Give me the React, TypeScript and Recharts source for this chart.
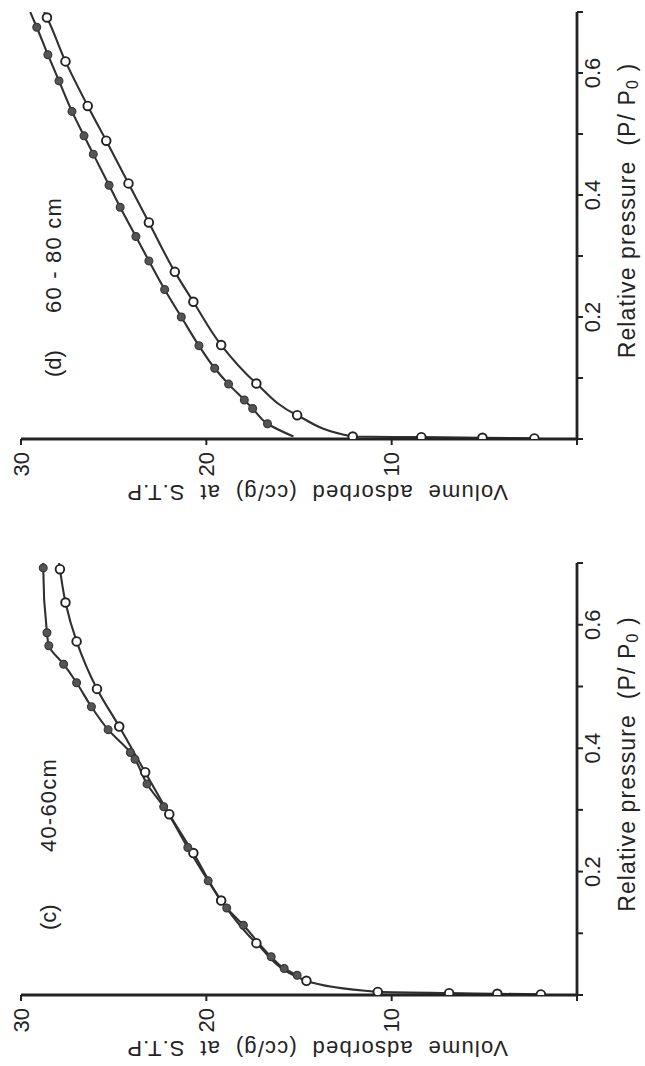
import React from "react";
import { ComposedChart, Line, XAxis, YAxis, Label } from "recharts";

// axes
const pressureTicks = [0, 0.1, 0.2, 0.3, 0.4, 0.5, 0.6, 0.7];
const pressureLabels = ["", "", "0.2", "", "0.4", "", "0.6", ""];
const volumeTicks = [0, 10, 20, 30];
const volumeLabels = ["", "10", "20", "30"];

// (c) 40-60 cm  -- open circles
const cOpenP = [0.001, 0.002, 0.003, 0.005, 0.023, 0.084, 0.153, 0.23, 0.293, 0.361, 0.435, 0.496, 0.573, 0.636, 0.69];
const cOpenV = [1.95, 4.3, 6.9, 10.75, 14.6, 17.3, 19.2, 20.7, 22.0, 23.3, 24.7, 25.9, 27.0, 27.6, 27.9];
const cOpenTailP = [0.7];
const cOpenTailV = [27.95];
// (c) filled circles
const cFilledP = [0.032, 0.043, 0.062, 0.113, 0.141, 0.185, 0.239, 0.305, 0.342, 0.382, 0.393, 0.43, 0.467, 0.506, 0.536, 0.566, 0.587, 0.692];
const cFilledV = [15.1, 15.8, 16.5, 18.0, 18.9, 19.9, 21.0, 22.3, 23.2, 23.85, 24.1, 25.3, 26.2, 27.0, 27.7, 28.5, 28.6, 28.8];
const cFilledTailP = [0.7];
const cFilledTailV = [28.8];

// (d) 60-80 cm  -- open circles
const dOpenP = [0.001, 0.002, 0.003, 0.004, 0.039, 0.091, 0.154, 0.225, 0.274, 0.355, 0.419, 0.489, 0.546, 0.619, 0.691];
const dOpenV = [2.3, 5.1, 8.4, 12.1, 15.1, 17.3, 19.2, 20.7, 21.7, 23.1, 24.2, 25.4, 26.4, 27.6, 28.6];
const dOpenTailP = [0.7];
const dOpenTailV = [28.75];
// (d) filled circles
const dFilledP = [0.025, 0.05, 0.064, 0.09, 0.116, 0.153, 0.2, 0.245, 0.292, 0.332, 0.38, 0.416, 0.467, 0.497, 0.537, 0.587, 0.63, 0.675];
const dFilledV = [16.7, 17.5, 17.95, 18.8, 19.55, 20.4, 21.35, 22.25, 23.1, 23.8, 24.65, 25.25, 26.1, 26.6, 27.25, 27.95, 28.55, 29.15];
const dFilledTailP = [0.004, 0.7];
const dFilledTailV = [15.3, 29.5];

const FONT = "'Liberation Sans', Arial, sans-serif";
const INK = "#232323";

type Pt = { p: number; v: number; mark: boolean };

const pts = (ps: number[], vs: number[], mark: boolean): Pt[] => ps.map((p, i) => ({ p, v: vs[i], mark }));
const curve = (ps: number[], vs: number[], tp: number[], tv: number[]) =>
  [...pts(ps, vs, true), ...pts(tp, tv, false)].sort((a, b) => a.p - b.p);

const labelFor = (ticks: number[], labels: string[]) => (value: number) => {
  const i = ticks.findIndex((t) => Math.abs(t - value) < 1e-6);
  return i >= 0 ? labels[i] : "";
};

const openDot = (props: any) => {
  const { cx, cy, payload, index } = props;
  if (!payload || !payload.mark || cx == null) return <g key={`o-${index}`} />;
  return <circle key={`o-${index}`} cx={cx} cy={cy} r={4.3} fill="#fff" stroke={INK} strokeWidth={1.9} />;
};

const filledDot = (props: any) => {
  const { cx, cy, payload, index } = props;
  if (!payload || !payload.mark || cx == null) return <g key={`f-${index}`} />;
  return <circle key={`f-${index}`} cx={cx} cy={cy} r={3.9} fill="#555" stroke="#383838" strokeWidth={1.2} />;
};

const PressureTitle = (props: any) => {
  const vb = props.viewBox || { x: 0, y: 0, width: 0, height: 0 };
  return (
    <text x={vb.x + vb.width / 2 + 15} y={vb.y + 50} textAnchor="middle" dominantBaseline="central"
      fontFamily={FONT} fontSize={23} fill={INK} letterSpacing={1.1}>
      Relative pressure{"\u00A0 "}(P/{"\u00A0"}P<tspan fontSize={16} dy={5}>0</tspan><tspan dy={-5}>{"\u00A0"})</tspan>
    </text>
  );
};

const VolumeTitle = (props: any) => {
  const vb = props.viewBox || { x: 0, y: 0, width: 0, height: 0 };
  const x = vb.x + vb.width - 53;
  const y = vb.y + vb.height / 2 + 18;
  return (
    <text x={x} y={y} transform={`rotate(-90, ${x}, ${y})`} textAnchor="middle" dominantBaseline="central"
      fontFamily={FONT} fontSize={22} fill={INK} letterSpacing={1.2}>
      {"Volume\u00A0 adsorbed\u00A0 (cc/g)\u00A0 at\u00A0 S.T.P"}
    </text>
  );
};

type PanelProps = {
  left: number;
  marginLeft: number;
  marginRight: number;
  open: Pt[];
  filled: Pt[];
  tag: string;
  depth: string;
  tagX: number;
  depthX: number;
  labelY: number;
};

function Panel({ left, marginLeft, marginRight, open, filled, tag, depth, tagX, depthX, labelY }: PanelProps) {
  const tickStyle = { fill: INK, fontSize: 22, fontFamily: FONT };
  return (
    <div style={{ position: "absolute", left, top: 0, width: 533, height: 645 }}>
      <ComposedChart width={533} height={645} margin={{ top: 21, right: marginRight, bottom: 8, left: marginLeft }}>
        <XAxis
          type="number"
          dataKey="p"
          domain={[0, 0.7]}
          ticks={pressureTicks}
          interval={0}
          allowDataOverflow
          height={60}
          tickSize={6}
          tickMargin={1}
          tickFormatter={labelFor(pressureTicks, pressureLabels)}
          tick={tickStyle}
          axisLine={{ stroke: INK, strokeWidth: 2.8 }}
          tickLine={{ stroke: INK, strokeWidth: 2 }}
        >
          <Label content={PressureTitle} />
        </XAxis>
        <YAxis
          type="number"
          dataKey="v"
          domain={[0, 30]}
          ticks={volumeTicks}
          interval={0}
          allowDataOverflow
          width={60}
          tickSize={6}
          tickMargin={7}
          tickFormatter={labelFor(volumeTicks, volumeLabels)}
          tick={tickStyle}
          axisLine={{ stroke: INK, strokeWidth: 2.8 }}
          tickLine={{ stroke: INK, strokeWidth: 2 }}
        >
          <Label content={VolumeTitle} />
        </YAxis>
        <Line data={open} dataKey="v" type="monotone" stroke="#303030" strokeWidth={2.1} dot={openDot}
          activeDot={false} legendType="none" isAnimationActive={false} />
        <Line data={filled} dataKey="v" type="monotone" stroke="#303030" strokeWidth={2.1} dot={filledDot}
          activeDot={false} legendType="none" isAnimationActive={false} />
      </ComposedChart>
      <svg width={533} height={645} style={{ position: "absolute", left: 0, top: 0, pointerEvents: "none" }}>
        <text x={tagX} y={labelY} dominantBaseline="central" fontFamily={FONT} fontSize={22} fill={INK}>{tag}</text>
        <text x={depthX} y={labelY} dominantBaseline="central" fontFamily={FONT} fontSize={22} fill={INK} letterSpacing={1.2}>{depth}</text>
      </svg>
    </div>
  );
}

export default function App() {
  const cOpen = curve(cOpenP, cOpenV, cOpenTailP, cOpenTailV);
  const cFilled = curve(cFilledP, cFilledV, cFilledTailP, cFilledTailV);
  const dOpen = curve(dOpenP, dOpenV, dOpenTailP, dOpenTailV);
  const dFilled = curve(dFilledP, dFilledV, dFilledTailP, dFilledTailV);
  return (
    <div style={{ position: "absolute", left: 0, top: 0, width: 645, height: 1066, overflow: "hidden", background: "#fff" }}>
      <div
        style={{
          position: "absolute",
          left: 0,
          top: 0,
          width: 1066,
          height: 645,
          transformOrigin: "0 0",
          transform: "translateY(1066px) rotate(-90deg)",
        }}
      >
        <Panel left={0} marginLeft={11} marginRight={30} open={cOpen} filled={cFilled}
          tag="(c)" depth="40-60cm" tagX={136} depthX={214} labelY={48} />
        <Panel left={533} marginLeft={34} marginRight={12} open={dOpen} filled={dFilled}
          tag="(d)" depth="60 - 80 cm" tagX={156} depthX={220} labelY={53} />
      </div>
    </div>
  );
}
